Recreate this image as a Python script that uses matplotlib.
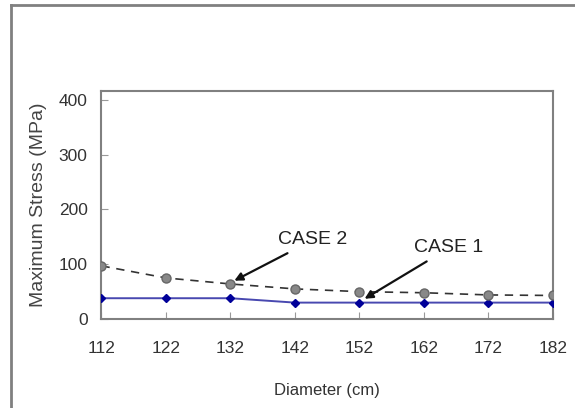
import matplotlib
matplotlib.use("Agg")
import matplotlib.pyplot as plt
from matplotlib.lines import Line2D

diameters = [112, 122, 132, 142, 152, 162, 172, 182]
case1 = [38, 38, 38, 30, 30, 30, 30, 30]
case2 = [97, 75, 64, 55, 50, 48, 44, 43]
yticks = [0, 100, 200, 300, 400]

plt.rcParams['font.family'] = ['Liberation Sans', 'DejaVu Sans']

fig = plt.figure(figsize=(5.75, 4.08), dpi=100)
ax = fig.add_axes([0.1765, 0.218, 0.785, 0.559])

ax.plot(diameters, case1, color='#4848b0', lw=1.4, marker='D', ms=4.5,
        mfc='#000099', mec='#000099', zorder=3)
ax.plot(diameters, case2, color='#333333', lw=1.2, ls=(0, (5, 4)), marker='o', ms=6.5,
        mfc='#888888', mec='#666666', zorder=3)

ax.set_xlim(112, 182)
ax.set_ylim(0, 416)
ax.set_xticks(diameters)
ax.set_yticks(yticks)
ax.tick_params(direction='in', length=5, color='#999999', labelsize=12.5,
               labelcolor='#333333')
ax.tick_params(axis='y', pad=10)
ax.tick_params(axis='x', pad=16)
for s in ax.spines.values():
    s.set_color('#808080')
    s.set_linewidth(1.5)

ax.set_xlabel('Diameter (cm)', fontsize=12, color='#333333', labelpad=19)
ax.set_ylabel('Maximum Stress (MPa)', fontsize=14, color='#444444', labelpad=8)

ax.annotate('CASE 2', xy=(132.6, 70), xytext=(313, 408 - 240), textcoords='figure pixels',
            fontsize=14, color='#222222', ha='center', va='center',
            arrowprops=dict(arrowstyle='-|>', color='#111111', lw=1.6, shrinkA=3, shrinkB=0,
                            mutation_scale=12))
ax.annotate('CASE 1', xy=(152.8, 37), xytext=(449, 408 - 248), textcoords='figure pixels',
            fontsize=14, color='#222222', ha='center', va='center',
            arrowprops=dict(arrowstyle='-|>', color='#111111', lw=1.6, shrinkA=3, shrinkB=0,
                            mutation_scale=12))

# figure border (partial frame)
fig.add_artist(Line2D([11/575, 11/575], [0, 1 - 5/408], transform=fig.transFigure,
                      color='#808080', lw=2))
fig.add_artist(Line2D([11/575, 1], [1 - 5/408, 1 - 5/408], transform=fig.transFigure,
                      color='#808080', lw=2))

fig.savefig('out.png', dpi=100)
